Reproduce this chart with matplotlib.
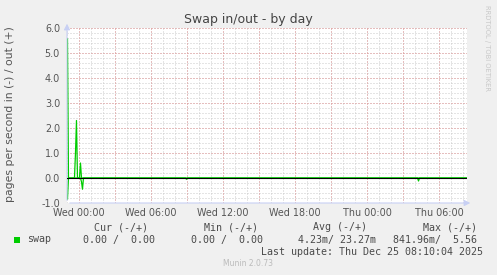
import numpy as np
import matplotlib
matplotlib.use("Agg")
import matplotlib.pyplot as plt

# hours relative to Wed 00:00, 5 minute samples
hours_start = -1.0
hours_end = 32.33

out_hours = [-0.96, -0.877, -0.377, -0.293, -0.21, -0.127, 0.04, 0.123, 0.207, 32.33]
out_values = [5.56, 0.0, 0.0, 1.0, 2.3, 0.0, 0.0, 0.6, 0.0, 0.0]

in_hours = [-0.96, -0.877, 0.123, 0.207, 0.29, 0.373, 8.873, 8.957, 9.04, 28.207, 28.29, 28.373, 32.33]
in_values = [0.84, 0.0, 0.0, 0.15, 0.45, 0.0, 0.0, 0.05, 0.0, 0.0, 0.12, 0.0, 0.0]

tick_hours = [0, 6, 12, 18, 24, 30]
tick_labels = ["Wed 00:00", "Wed 06:00", "Wed 12:00", "Wed 18:00", "Thu 00:00", "Thu 06:00"]

legend_headers = ["Cur (-/+)", "Min (-/+)", "Avg (-/+)", "Max (-/+)"]
legend_values = ["0.00 /  0.00", "0.00 /  0.00", "4.23m/ 23.27m", "841.96m/  5.56"]

W, H = 497, 275
bg = "#f0f0f0"
green = "#00cc00"

fig = plt.figure(figsize=(W / 100, H / 100), dpi=100, facecolor=bg)
ax = fig.add_axes([67 / W, 1 - 203 / H, 400 / W, 175 / H])
ax.set_facecolor("white")

ax.set_xlim(hours_start, hours_end)
ax.set_ylim(-1.0, 6.0)

# grid: minor grey, major red (dotted like rrdtool)
gkw = dict(lw=0.72, ls=(0, (1, 2)))
for h in np.arange(-1, 33, 1):
    ax.axvline(h, color="#cacaca", zorder=1, **gkw)
for y in np.arange(-1.0, 6.01, 0.2):
    ax.axhline(y, color="#cacaca", zorder=1, **gkw)
for h in np.arange(0, 33, 3):
    ax.axvline(h, color="#e69a9a", zorder=2, **gkw)
for y in np.arange(-1.0, 6.01, 1.0):
    ax.axhline(y, color="#e69a9a", zorder=2, **gkw)

ax.plot(out_hours, out_values, color=green, lw=0.9, zorder=3)
ax.plot(in_hours, [-v for v in in_values], color=green, lw=0.9, zorder=3)
ax.axhline(0, color="black", lw=0.8, zorder=4)

for s in ax.spines.values():
    s.set_visible(False)
ax.set_xticks(tick_hours)
ax.set_xticklabels(tick_labels)
ax.set_yticks(np.arange(-1, 7, 1))
ax.set_yticklabels(["%.1f" % v for v in np.arange(-1, 7, 1)])
ax.tick_params(axis="both", length=0, labelsize=6.9, colors="#555555")
ax.tick_params(axis="y", pad=5)
ax.tick_params(axis="x", pad=3.5)

# axis lines with arrows
axis_col = "#c8d0f4"
ax.annotate("", xy=(0, 1.04), xycoords="axes fraction", xytext=(0, 0),
            arrowprops=dict(arrowstyle="-|>,head_length=0.35,head_width=0.18", color=axis_col, lw=0.8))
ax.annotate("", xy=(1.015, 0), xycoords="axes fraction", xytext=(0, 0),
            arrowprops=dict(arrowstyle="-|>,head_length=0.35,head_width=0.18", color=axis_col, lw=0.8))

fig.text(248.5 / W, 1 - 19 / H, "Swap in/out - by day", ha="center", va="center",
         fontsize=9, color="#444444")
fig.text(10 / W, 1 - 114 / H, "pages per second in (-) / out (+)", rotation=90,
         ha="center", va="center", fontsize=7.8, color="#555555")
fig.text(487 / W, 1 - 5 / H, "RRDTOOL / TOBI OETIKER", rotation=270, ha="center", va="top",
         fontsize=4.9, color="#c8c8c8")

mono = "DejaVu Sans Mono"
tcol = "#4a4a4a"
for x, txt in zip([94.3, 204, 313.3, 422.7], legend_headers):
    fig.text(x / W, 1 - 227.5 / H, txt, family=mono, fontsize=7.2, color=tcol, va="center")
fig.patches.append(plt.Rectangle((14 / W, 1 - 243 / H), 6 / W, 6 / H, transform=fig.transFigure,
                                 facecolor=green, edgecolor="none"))
fig.text(26.7 / W, 1 - 239.5 / H, "swap", family=mono, fontsize=7.2, color=tcol, va="center")
for x, txt in zip([83.3, 190.7, 297.7, 392.7], legend_values):
    fig.text(x / W, 1 - 239.5 / H, txt, family=mono, fontsize=7.2, color=tcol, va="center")
fig.text(482.7 / W, 1 - 252 / H, "Last update: Thu Dec 25 08:10:04 2025", family=mono,
         fontsize=7.2, color=tcol, va="center", ha="right")
fig.text(248 / W, 1 - 264 / H, "Munin 2.0.73", ha="center", va="center", fontsize=5.5, color="#bbbbbb")

fig.savefig("out.png", dpi=100, facecolor=bg)
